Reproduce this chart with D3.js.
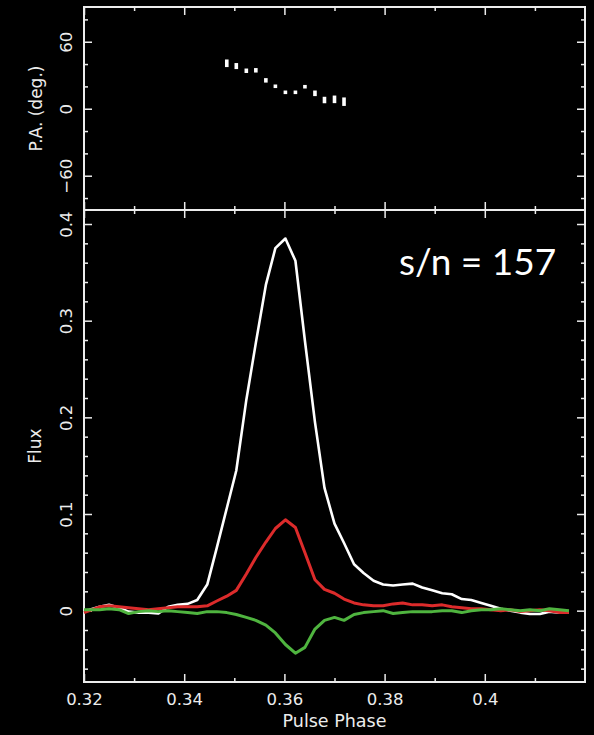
<!DOCTYPE html>
<html>
<head>
<meta charset="utf-8">
<script src="https://cdnjs.cloudflare.com/ajax/libs/d3/7.8.5/d3.min.js"></script>
<style>
  html, body { margin: 0; padding: 0; background: #000; }
  .chart { width: 594px; height: 735px; }
</style>
</head>
<body>
<div class="chart"></div>
<script>
// pulse phase bins
var phase = [0.3200, 0.3211, 0.3231, 0.3250, 0.3270, 0.3289, 0.3309, 0.3329, 0.3348, 0.3368,
  0.3387, 0.3407, 0.3426, 0.3446, 0.3465, 0.3485, 0.3504, 0.3524, 0.3543, 0.3563,
  0.3582, 0.3602, 0.3622, 0.3641, 0.3661, 0.3680, 0.3700, 0.3719, 0.3739, 0.3758,
  0.3778, 0.3797, 0.3817, 0.3836, 0.3856, 0.3875, 0.3895, 0.3915, 0.3934, 0.3954,
  0.3973, 0.3993, 0.4012, 0.4032, 0.4051, 0.4071, 0.4090, 0.4110, 0.4129, 0.4149, 0.4168];

// total intensity (white)
var totalI = [0.000, 0.001, 0.004, 0.006, 0.003, -0.001, -0.002, -0.002, -0.003, 0.004,
  0.006, 0.007, 0.011, 0.027, 0.065, 0.106, 0.145, 0.218, 0.277, 0.337,
  0.375, 0.385, 0.362, 0.279, 0.195, 0.127, 0.090, 0.070, 0.048, 0.039,
  0.031, 0.027, 0.026, 0.027, 0.028, 0.024, 0.021, 0.018, 0.017, 0.012,
  0.011, 0.008, 0.005, 0.002, 0.000, -0.002, -0.0035, -0.0035, -0.001, -0.002, -0.002];

// linear polarisation (red)
var linearL = [-0.002, 0.000, 0.004, 0.005, 0.004, 0.003, 0.002, 0.001, 0.002, 0.003,
  0.004, 0.004, 0.004, 0.005, 0.010, 0.015, 0.021, 0.038, 0.055, 0.071,
  0.085, 0.094, 0.086, 0.060, 0.032, 0.022, 0.018, 0.012, 0.008, 0.006,
  0.005, 0.005, 0.007, 0.008, 0.006, 0.006, 0.005, 0.006, 0.004, 0.003,
  0.002, 0.002, 0.001, 0.000, 0.001, -0.001, 0.000, 0.001, 0.000, -0.002, -0.002];

// circular polarisation (green)
var circV = [0.001, 0.001, 0.001, 0.002, 0.001, -0.003, -0.001, 0.000, -0.001, 0.000,
  -0.001, -0.002, -0.003, -0.001, -0.001, -0.002, -0.004, -0.007, -0.010, -0.015,
  -0.023, -0.035, -0.044, -0.038, -0.019, -0.010, -0.007, -0.010, -0.004, -0.002,
  -0.001, 0.000, -0.003, -0.002, -0.001, -0.001, -0.001, 0.000, 0.000, -0.002,
  0.000, 0.001, 0.001, 0.002, 0.001, 0.000, 0.001, 0.000, 0.002, 0.001, 0.000];

// position angle points
var paPhase = [0.3485, 0.3504, 0.3524, 0.3543, 0.3563, 0.3582, 0.3602, 0.3622, 0.3641, 0.3661, 0.3680, 0.3700, 0.3719];
var paDeg = [40.7, 38.2, 34.0, 34.4, 25.4, 20.1, 14.7, 14.7, 19.7, 13.8, 7.8, 8.4, 6.3];
var paErr = [3.4, 2.7, 2.0, 2.0, 2.0, 1.6, 1.6, 1.6, 1.6, 2.5, 2.9, 3.4, 3.8];

// ticks
var xMajor = [0.32, 0.34, 0.36, 0.38, 0.40];
var xMajorLabels = ['0.32', '0.34', '0.36', '0.38', '0.4'];
var xMinor = [0.33, 0.35, 0.37, 0.39, 0.41];
var paMajor = [-60, 0, 60];
var paMajorLabels = ['\u221260', '0', '60'];
var paMinor = [-80, -40, -20, 20, 40, 80];
var fluxMajor = [0, 0.1, 0.2, 0.3, 0.4];
var fluxMajorLabels = ['0', '0.1', '0.2', '0.3', '0.4'];
var fluxMinor = [-0.06, -0.04, -0.02, 0.02, 0.04, 0.06, 0.08, 0.12, 0.14, 0.16, 0.18,
  0.22, 0.24, 0.26, 0.28, 0.32, 0.34, 0.36, 0.38];

var xLeft = 84, xRight = 585, yTop = 7, yMid = 210, yBot = 682;
var fg = '#ececec';
var font = '"DejaVu Sans", sans-serif';

var svg = d3.select('.chart')
  .append('svg')
    .attr('width', 594)
    .attr('height', 735)
    .style('background', '#000');

var x = d3.scaleLinear().domain([0.32, 0.42]).range([xLeft, xRight]);
var yPA = d3.scaleLinear().domain([-90.7, 91.1]).range([yMid, yTop]);
var yFlux = d3.scaleLinear().domain([-0.0738, 0.4145]).range([yBot, yMid]);

// draws inward ticks; labels only when given
function ticks(axisFn, scale, values, size, labels, tx, ty) {
  var g = svg.append('g')
    .attr('transform', `translate(${tx}, ${ty})`)
    .call(axisFn(scale)
      .tickValues(values)
      .tickSize(-size)
      .tickPadding(11)
      .tickFormat((d, i) => labels ? labels[i] : ''));
  g.select('.domain').remove();
  g.selectAll('line').attr('stroke', fg).attr('stroke-width', 1.5);
  g.selectAll('text')
    .attr('fill', fg)
    .style('font-family', font)
    .style('font-size', '16.5px');
  return g;
}

// x ticks on every horizontal edge
[[d3.axisTop, yTop], [d3.axisBottom, yMid], [d3.axisTop, yMid]].forEach(function (a) {
  ticks(a[0], x, xMajor, 8, null, 0, a[1]);
  ticks(a[0], x, xMinor, 4, null, 0, a[1]);
});
ticks(d3.axisBottom, x, xMajor, 8, xMajorLabels, 0, yBot);
ticks(d3.axisBottom, x, xMinor, 4, null, 0, yBot);

// y ticks, labels rotated like the original
function rotateLabels(g) {
  g.selectAll('text')
    .attr('transform', 'rotate(-90)')
    .attr('x', 0)
    .attr('y', -12)
    .attr('dy', 0)
    .attr('text-anchor', 'middle');
}
rotateLabels(ticks(d3.axisLeft, yPA, paMajor, 8, paMajorLabels, xLeft, 0));
ticks(d3.axisLeft, yPA, paMinor, 4, null, xLeft, 0);
ticks(d3.axisRight, yPA, paMajor, 8, null, xRight, 0);
ticks(d3.axisRight, yPA, paMinor, 4, null, xRight, 0);
rotateLabels(ticks(d3.axisLeft, yFlux, fluxMajor, 8, fluxMajorLabels, xLeft, 0));
ticks(d3.axisLeft, yFlux, fluxMinor, 4, null, xLeft, 0);
ticks(d3.axisRight, yFlux, fluxMajor, 8, null, xRight, 0);
ticks(d3.axisRight, yFlux, fluxMinor, 4, null, xRight, 0);

// frames
svg.append('rect')
  .attr('x', xLeft).attr('y', yTop)
  .attr('width', xRight - xLeft).attr('height', yBot - yTop)
  .attr('fill', 'none').attr('stroke', fg).attr('stroke-width', 2);
svg.append('line')
  .attr('x1', xLeft).attr('x2', xRight)
  .attr('y1', yMid).attr('y2', yMid)
  .attr('stroke', fg).attr('stroke-width', 2);

// position angle points with error bars
svg.selectAll('rect.pa')
  .data(paPhase)
  .enter()
  .append('rect')
    .attr('class', 'pa')
    .attr('x', d => x(d) - 1.8)
    .attr('width', 3.6)
    .attr('y', (d, i) => yPA(paDeg[i] + paErr[i]))
    .attr('height', (d, i) => yPA(paDeg[i] - paErr[i]) - yPA(paDeg[i] + paErr[i]))
    .attr('fill', '#fff');

// profiles
var line = d3.line()
  .x((d, i) => x(phase[i]))
  .y(d => yFlux(d));

[[totalI, '#ffffff', 2.6], [linearL, '#dc2b2b', 3], [circV, '#4fb43f', 3]].forEach(function (s) {
  svg.append('path')
    .datum(s[0])
    .attr('d', line)
    .attr('fill', 'none')
    .attr('stroke', s[1])
    .attr('stroke-width', s[2])
    .attr('stroke-linejoin', 'round');
});

// axis titles
svg.append('text')
  .attr('transform', `translate(42, ${(yTop + yMid) / 2}) rotate(-90)`)
  .attr('text-anchor', 'middle')
  .attr('fill', fg)
  .style('font-family', font)
  .style('font-size', '17px')
  .text('P.A. (deg.)');

svg.append('text')
  .attr('transform', `translate(41, ${(yMid + yBot) / 2}) rotate(-90)`)
  .attr('text-anchor', 'middle')
  .attr('fill', fg)
  .style('font-family', font)
  .style('font-size', '17px')
  .text('Flux');

svg.append('text')
  .attr('x', (xLeft + xRight) / 2)
  .attr('y', 727)
  .attr('text-anchor', 'middle')
  .attr('fill', fg)
  .style('font-family', font)
  .style('font-size', '17.5px')
  .text('Pulse Phase');

svg.append('text')
  .attr('x', 399)
  .attr('y', 275)
  .attr('fill', '#fff')
  .style('font-family', 'Lato, sans-serif')
  .style('font-size', '37px')
  .text('s/n = 157');
</script>
</body>
</html>
